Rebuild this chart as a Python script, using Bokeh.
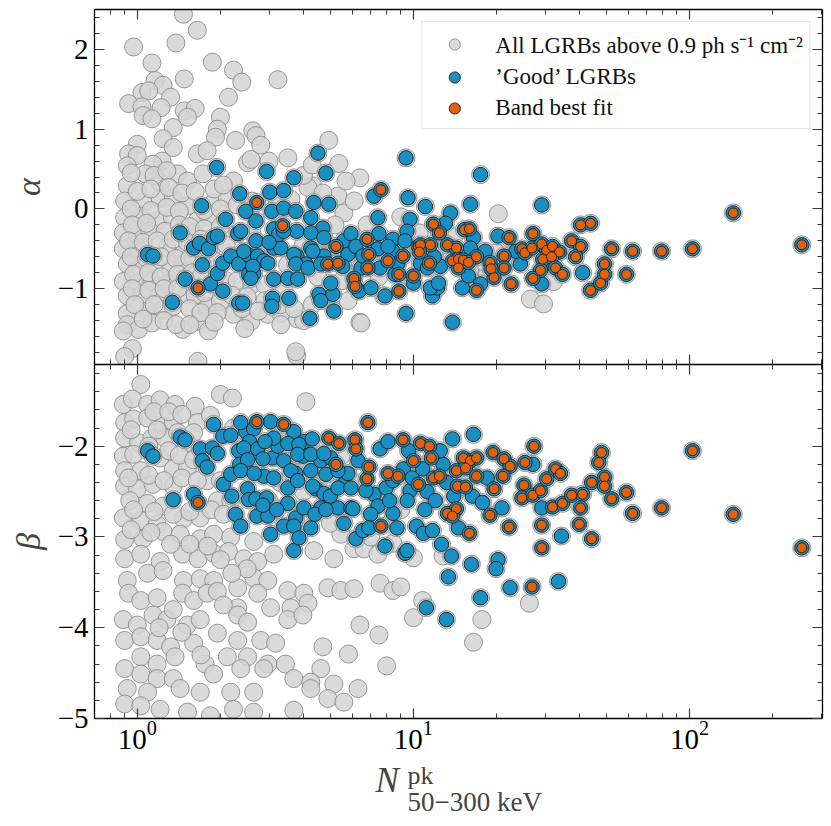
from bokeh.plotting import figure
from bokeh.models import Range1d, FixedTicker, LinearAxis, LogAxis, Label, Legend, LegendItem
from bokeh.layouts import column
from bokeh.embed import file_html
from bokeh.resources import INLINE

FONT = "Liberation Serif"
GREY_FILL = "#d3d3d3"
GREY_LINE = "#8c8c8c"
BLUE = "#1a8fc2"
ORANGE = "#e0600c"
EDGE = "#1c1c1c"

# ---------------- tick values ----------------
x_major = [1, 10, 100]
x_minor = [0.7, 0.8, 0.9, 2, 3, 4, 5, 6, 7, 8, 9, 20, 30, 40, 50, 60, 70, 80, 90, 200, 300]
alpha_major = [-1, 0, 1, 2]
alpha_minor = [-1.8, -1.6, -1.4, -1.2, -0.8, -0.6, -0.4, -0.2, 0.2, 0.4, 0.6, 0.8,
               1.2, 1.4, 1.6, 1.8, 2.2, 2.4]
beta_major = [-5, -4, -3, -2]
beta_minor = [-4.8, -4.6, -4.4, -4.2, -3.8, -3.6, -3.4, -3.2, -2.8, -2.6, -2.4, -2.2,
              -1.8, -1.6, -1.4, -1.2]
tick_text = {-5: "\u22125", -4: "\u22124", -3: "\u22123", -2: "\u22122", -1: "\u22121",
             0: "0", 1: "1", 2: "2"}

# ---------------- alpha panel: all LGRBs (not 'good') ----------------
top_all_n = [
    1.47, 1.65, 0.97, 1.38, 1.13, 1.87, 2.23, 2.39, 1.48, 3.23,
    1.16, 1.24, 1.04, 1.10, 1.32, 2.14, 0.93, 1.04, 1.22, 1.48,
    1.62, 1.05, 1.13, 1.52, 2.00, 1.35, 1.95, 2.62, 2.69, 1.24,
    1.92, 2.27, 1.00, 1.35, 4.94, 0.93, 1.00, 1.65, 1.79, 1.23,
    1.14, 0.92, 2.51, 3.51, 5.37, 6.40, 1.40, 1.52, 1.07, 1.73,
    2.23, 0.92, 1.21, 4.32, 5.33, 0.90, 1.05, 1.21, 1.35, 1.52,
    1.89, 2.12, 4.15, 0.90, 1.03, 1.18, 1.34, 1.65, 1.81, 0.89,
    1.00, 1.11, 1.26, 1.60, 0.89, 1.01, 1.28, 1.46, 0.92, 1.03,
    1.16, 1.32, 1.46, 0.89, 1.00, 1.13, 1.28, 0.92, 1.04, 1.18,
    1.52, 0.92, 1.09, 1.24, 1.79, 2.00, 0.92, 1.01, 1.13, 1.46,
    1.65, 1.81, 2.23, 2.58, 0.89, 2.97, 3.31, 3.81, 6.40, 0.96,
    0.90, 1.66, 3.78, 2.58, 20.3, 26.5, 6.46, 2.45, 3.31, 4.00,
    7.79, 3.75, 32.2, 18.0, 17.0, 29.6, 0.95, 1.15, 1.28, 1.00,
    1.12, 1.30, 1.45, 1.62, 1.90, 2.05, 0.95, 1.12, 1.28, 1.42,
    1.75, 2.00, 2.30, 2.60, 3.60, 4.70, 5.60, 6.10, 0.96, 1.08,
    1.42, 1.55, 1.75, 2.00, 0.93, 1.05, 1.18, 1.35, 1.52, 1.70,
    1.90, 2.10, 0.95, 1.08, 1.22, 1.38, 1.55, 1.75, 1.90, 0.97,
    1.10, 1.22, 1.40, 1.58, 1.70, 2.10, 2.30, 2.60, 2.90, 3.40,
    0.96, 1.10, 1.25, 1.40, 1.62, 1.75, 2.20, 2.50, 2.90, 3.30,
    3.70, 4.30, 5.80, 0.98, 1.15, 1.35, 1.55, 1.70, 1.95, 2.40,
    2.75, 1.05, 1.25, 1.38, 1.55, 1.90, 2.60, 3.00, 3.50, 4.00,
    4.50, 5.20, 5.50, 6.00, 6.80, 7.50, 8.50, 9.00, 10.5, 12.0,
    14.0, 16.0, 20.0, 24.0, 3.20, 4.00, 5.70, 3.00, 2.80, 4.30,
]
top_all_alpha = [
    2.44, 2.24, 2.03, 2.08, 1.83, 1.84, 1.74, 1.59, 1.63, 1.62,
    1.61, 1.55, 1.46, 1.48, 1.40, 1.40, 1.32, 1.28, 1.27, 1.23,
    1.26, 1.17, 1.13, 1.15, 1.15, 1.02, 1.00, 0.98, 0.92, 0.88,
    0.90, 0.86, 0.81, 0.77, 0.86, 0.69, 0.67, 0.69, 0.73, 0.60,
    0.56, 0.54, 0.58, 0.64, 0.57, 0.39, 0.44, 0.35, 0.44, 0.44,
    0.35, 0.29, 0.33, 0.29, 0.16, 0.10, 0.08, 0.13, 0.14, 0.04,
    0.08, 0.13, 0.27, -0.11, -0.09, -0.15, -0.11, -0.15, -0.09, -0.30,
    -0.32, -0.28, -0.28, -0.30, -0.50, -0.50, -0.49, -0.57, -0.69, -0.74,
    -0.69, -0.76, -0.69, -0.91, -0.93, -0.91, -0.94, -1.09, -1.07, -1.12,
    -1.07, -1.31, -1.28, -1.26, -1.22, -1.16, -1.45, -1.51, -1.43, -1.51,
    -1.41, -1.53, -1.32, -1.41, -1.53, -1.32, -1.31, -1.38, -1.42, -1.75,
    -1.85, -1.91, -1.84, 0.62, -0.06, -1.13, -1.43, -1.50, -1.45, -1.40,
    -1.09, -1.79, -0.91, -0.69, -0.87, -1.19, 0.45, 0.42, 0.48, 0.22,
    0.25, 0.27, 0.20, 0.22, 0.25, 0.30, 0.00, -0.02, 0.02, -0.03,
    -0.02, 0.00, 0.05, 0.10, 0.12, 0.20, -0.05, 0.10, -0.20, -0.18,
    -0.20, -0.22, -0.25, -0.22, -0.40, -0.42, -0.40, -0.38, -0.42, -0.38,
    -0.45, -0.45, -0.60, -0.62, -0.60, -0.62, -0.62, -0.60, -0.65, -0.82,
    -0.80, -0.85, -0.82, -0.80, -0.85, -0.90, -0.90, -0.95, -0.95, -1.00,
    -1.00, -1.02, -1.00, -1.00, -1.08, -1.05, -1.08, -1.10, -1.15, -1.20,
    -1.25, -1.20, -1.15, -1.20, -1.20, -1.22, -1.25, -1.30, -1.30, -1.25,
    -1.28, -1.38, -1.40, -1.45, -1.45, -1.42, -0.30, -0.55, -0.70, -0.45,
    -0.85, -0.20, -0.90, -0.60, -0.20, -0.85, -0.65, -0.10, -0.30, -0.55,
    -0.35, -0.78, -0.55, -0.65, 0.05, 0.42, 0.35, 0.60, 0.80, 0.55,
]

# ---------------- alpha panel: 'good' LGRBs (not Band best fit) ----------------
top_good_n = [
    1.94, 1.71, 1.43, 1.09, 1.14, 1.34, 1.49, 1.60, 1.68, 1.72,
    1.81, 1.89, 1.95, 1.84, 1.95, 2.04, 2.09, 2.04, 2.18, 2.31,
    2.33, 2.33, 2.35, 2.47, 2.51, 2.53, 2.69, 2.73, 2.64, 2.87,
    2.94, 3.02, 3.07, 3.12, 3.12, 3.12, 3.09, 3.07, 3.39, 3.39,
    3.31, 3.51, 3.54, 3.69, 3.75, 3.78, 3.78, 3.81, 4.08, 4.25,
    4.25, 4.22, 4.36, 4.51, 4.55, 4.70, 4.82, 4.74, 4.94, 5.11,
    5.15, 5.60, 5.94, 5.79, 6.46, 6.35, 7.02, 7.20, 7.44, 7.50,
    7.89, 8.43, 8.57, 9.40, 9.40, 9.56, 9.72, 17.5, 11.05, 16.09,
    13.62, 29.15, 13.06, 16.50, 20.25, 15.04, 11.72, 12.22, 13.85, 29.15,
    41.0, 2.37, 2.69, 3.25, 3.39, 4.25, 4.74, 9.48, 2.43, 3.00,
    3.69, 4.32, 7.44, 8.43, 2.62, 2.97, 3.75, 4.15, 4.62, 5.55,
    7.57, 10.60, 11.24, 12.53, 2.58, 5.02, 10.0, 11.52, 4.62, 2.41,
    12.32, 6.19, 6.56, 8.09, 8.79, 9.32, 11.9, 16.09, 18.2, 15.82,
    17.5, 24.4, 30.6, 23.5,
]
top_good_alpha = [
    0.52, 0.04, -0.30, -0.57, -0.59, -1.17, -0.88, -0.49, -0.43, -0.70,
    -0.50, -0.36, -0.34, -0.94, -0.81, -1.03, -0.13, -0.68, -0.59, -0.31,
    -0.69, -1.18, 0.19, -0.03, -0.57, -0.82, -0.15, -0.59, -0.81, -0.65,
    0.47, 0.21, -0.03, -0.25, -0.49, -0.88, -1.12, -1.22, 0.23, 0.01,
    -0.49, -0.87, -1.12, 0.39, -0.03, -0.28, -0.59, -0.88, -0.69, -0.11,
    -0.49, -1.37, 0.08, 0.70, -1.07, -0.24, 0.45, -0.59, 0.06, -1.07,
    -1.28, -0.40, -0.31, -0.57, -0.74, -1.03, -0.99, 0.16, -0.11, -0.31,
    -1.09, -0.38, -0.82, 0.64, -1.31, 0.14, -0.13, 0.43, 0.03, 0.06,
    -0.05, 0.05, -0.18, -0.36, -0.34, -0.99, -1.09, -0.99, -1.42, -0.94,
    -0.80, -0.28, -0.40, -0.32, -0.28, -0.30, -0.36, -0.28, -0.53, -0.42,
    -0.57, -0.53, -0.50, -0.53, -0.72, -0.68, -0.69, -0.74, -0.69, -0.72,
    -0.74, -0.68, -0.74, -0.72, -0.87, -0.93, -0.93, -0.99, -1.15, -1.18,
    -0.93, -0.47, -0.59, -0.47, -0.68, -0.40, -0.60, -0.49, -0.53, -0.84,
    -0.94, -0.69, -0.68, -0.53,
]

# ---------------- alpha panel: Band best fit ----------------
top_band_n = [
    1.66, 2.71, 3.36, 5.24, 4.90, 5.33, 6.09, 6.14, 6.79, 6.90,
    6.84, 7.63, 8.09, 8.86, 8.86, 9.17, 10.0, 10.42, 11.81, 12.42,
    15.30, 15.95, 22.21, 10.60, 11.52, 13.28, 14.31, 10.51, 11.43, 13.85,
    14.55, 15.17, 14.55, 16.92, 15.82, 18.94, 21.29, 21.29, 19.58, 19.10,
    22.59, 16.92, 27.09, 24.71, 25.34, 26.86, 29.15, 30.37, 31.90, 33.79,
    29.40, 31.63, 28.85, 27.09, 32.70, 34.65, 37.40, 40.3, 38.67, 40.3,
    43.8, 43.8, 47.6, 49.2, 49.2, 52.2, 62.2, 59.1, 79.2, 102.5,
    144.0, 255.0,
]
top_band_alpha = [
    -0.99, 0.08, -0.21, -0.47, -0.69, -0.68, -0.87, -0.97, -0.38, -0.57,
    -0.74, 0.24, -0.65, -0.82, -1.03, -0.59, -0.84, -0.47, -0.19, -0.30,
    -0.26, -0.25, -0.36, -0.45, -0.45, -0.45, -0.49, -0.54, -0.68, -0.65,
    -0.63, -0.64, -0.74, -0.60, -0.67, -0.67, -0.59, -0.74, -0.86, -0.75,
    -0.94, -1.02, -0.31, -0.50, -0.55, -0.49, -0.44, -0.52, -0.47, -0.54,
    -0.63, -0.60, -0.77, -0.87, -0.74, -0.82, -0.40, -0.47, -0.60, -0.20,
    -0.18, -1.02, -0.93, -0.82, -0.69, -0.50, -0.53, -0.82, -0.53, -0.50,
    -0.05, -0.45,
]

# ---------------- beta panel: all LGRBs (not 'good') ----------------
bot_all_n = [
    1.03, 0.89, 0.96, 1.09, 1.21, 1.37, 2.00, 2.21, 4.08, 1.62,
    0.90, 0.97, 1.09, 1.24, 1.35, 1.65, 1.84, 2.23, 0.90, 1.01,
    1.13, 1.26, 1.52, 0.89, 0.97, 1.21, 0.90, 1.03, 1.35, 1.52,
    0.90, 1.00, 1.14, 1.35, 1.79, 2.00, 0.94, 1.09, 1.24, 1.95,
    2.18, 0.89, 1.03, 1.18, 1.47, 1.69, 0.90, 1.05, 1.24, 1.43,
    1.69, 1.89, 2.18, 2.64, 0.90, 1.03, 1.21, 1.46, 1.66, 1.89,
    2.14, 2.43, 2.73, 3.12, 4.36, 5.15, 5.46, 6.09, 6.62, 7.44,
    8.43, 0.92, 1.09, 1.24, 1.47, 1.69, 1.89, 2.31, 2.64, 2.97,
    3.51, 4.01, 4.90, 5.46, 6.09, 7.57, 8.43, 0.93, 1.03, 1.18,
    1.46, 1.60, 1.79, 2.31, 2.73, 3.04, 3.60, 4.15, 0.89, 1.00,
    1.14, 1.28, 1.52, 1.69, 2.31, 2.51, 3.51, 3.98, 6.40, 7.50,
    0.90, 1.03, 1.18, 1.32, 1.60, 1.95, 2.31, 2.80, 3.17, 4.70,
    5.82, 1.03, 1.18, 1.37, 1.76, 2.12, 2.51, 2.97, 3.44, 4.62,
    8.00, 0.90, 1.03, 1.18, 1.35, 1.89, 2.37, 2.87, 3.69, 4.25,
    5.15, 6.30, 0.92, 1.09, 1.43, 1.69, 2.18, 2.64, 4.25, 4.90,
    0.90, 1.03, 1.21, 1.52, 1.84, 2.23, 2.64, 3.69, 5.60, 10.0,
    10.8, 17.7, 16.5, 26.3, 12.8, 10.0, 9.00, 1.15, 1.30, 1.45,
    0.95, 1.18, 1.40, 1.60, 1.10, 1.30, 1.42, 1.60, 0.93, 1.10,
    1.25, 1.45, 1.65, 0.97, 1.15, 1.35, 1.55, 1.85, 2.05, 0.95,
    1.12, 1.32, 1.55, 1.80, 2.00, 2.50, 2.20, 1.95, 2.05, 1.35,
    1.20, 1.45, 1.70, 2.80, 3.30, 4.50, 5.50, 3.00, 4.00, 5.00,
    6.50, 7.00, 9.00,
]
bot_all_beta = [
    -1.32, -1.54, -1.48, -1.54, -1.49, -1.54, -1.43, -1.47, -1.51, -1.56,
    -1.74, -1.70, -1.69, -1.78, -1.73, -1.74, -1.66, -1.80, -1.91, -1.96,
    -1.91, -1.91, -1.96, -2.11, -2.09, -2.13, -2.27, -2.27, -2.25, -2.24,
    -2.44, -2.47, -2.42, -2.44, -2.38, -2.38, -2.60, -2.63, -2.66, -2.60,
    -2.60, -2.79, -2.82, -2.86, -2.80, -2.79, -3.03, -3.02, -2.94, -2.97,
    -3.02, -2.97, -3.00, -3.05, -3.24, -3.19, -3.27, -3.19, -3.24, -3.18,
    -3.16, -3.24, -3.27, -3.19, -3.15, -3.24, -2.97, -3.13, -3.13, -3.19,
    -3.07, -3.48, -3.40, -3.37, -3.48, -3.46, -3.48, -3.56, -3.45, -3.48,
    -3.59, -3.62, -3.56, -3.59, -3.57, -3.51, -3.59, -3.62, -3.70, -3.67,
    -3.62, -3.70, -3.62, -3.78, -3.62, -3.78, -3.78, -3.73, -3.91, -3.97,
    -3.86, -3.91, -3.97, -3.91, -3.86, -3.94, -3.91, -3.86, -3.97, -4.08,
    -4.14, -4.10, -4.14, -4.21, -4.17, -4.06, -4.14, -4.14, -4.17, -4.21,
    -4.29, -4.32, -4.40, -4.32, -4.40, -4.32, -4.32, -4.40, -4.40, -4.45,
    -4.42, -4.45, -4.51, -4.56, -4.56, -4.51, -4.45, -4.45, -4.56, -4.60,
    -4.62, -4.67, -4.67, -4.71, -4.67, -4.71, -4.71, -4.71, -4.67, -4.78,
    -4.84, -4.86, -4.90, -4.93, -4.97, -4.90, -4.93, -4.91, -4.82, -3.89,
    -3.70, -3.91, -4.16, -3.73, -3.21, -3.23, -3.55, -1.62, -1.62, -1.65,
    -1.82, -1.82, -1.85, -1.85, -2.00, -2.05, -2.10, -2.15, -2.35, -2.32,
    -2.38, -2.35, -2.38, -2.70, -2.72, -2.75, -2.72, -2.70, -2.75, -2.92,
    -2.95, -3.08, -3.08, -3.10, -3.25, -3.35, -3.40, -3.60, -3.75, -3.80,
    -4.00, -4.05, -4.30, -2.00, -2.40, -2.30, -2.10, -2.60, -2.50, -2.85,
    -2.40, -3.00, -2.70,
]

# ---------------- beta panel: 'good' LGRBs (not Band best fit) ----------------
bot_good_n = [
    1.09, 1.14, 1.35, 1.60, 1.43, 1.49, 1.89, 1.69, 1.72, 1.79,
    1.87, 1.95, 2.04, 2.18, 2.05, 2.18, 2.27, 2.37, 2.33, 2.35,
    2.47, 2.64, 2.51, 2.53, 2.69, 2.71, 2.97, 3.04, 2.94, 3.04,
    2.87, 3.12, 3.09, 3.23, 3.12, 3.39, 3.51, 3.51, 3.39, 3.69,
    3.69, 3.51, 3.75, 3.75, 3.69, 4.01, 3.98, 4.01, 4.25, 4.25,
    4.43, 4.62, 4.62, 4.74, 5.02, 5.33, 5.60, 5.79, 5.94, 6.30,
    6.19, 6.56, 7.20, 7.44, 7.57, 7.89, 8.09, 8.43, 8.72, 9.32,
    9.48, 9.72, 10.25, 13.85, 16.50, 16.36, 14.55, 10.87, 11.72, 12.63,
    13.73, 16.22, 13.39, 11.14, 13.17, 17.50, 20.25, 19.91, 22.40, 33.51,
    20.93, 27.09, 29.15, 34.36, 2.37, 2.55, 2.43, 2.73, 2.90, 3.85,
    4.30, 2.51, 2.85, 3.81, 4.25, 4.74, 2.37, 2.65, 3.60, 4.82,
    5.33, 2.20, 3.81, 4.32, 5.00, 5.33, 5.94, 6.73, 7.96, 8.43,
    2.85, 3.20, 4.40, 4.82, 5.60, 6.04, 7.00, 8.20, 3.85, 6.90,
    9.60, 9.20, 9.90, 10.8, 11.2, 12.0, 12.8, 13.2, 14.0, 11.0,
    9.50, 12.5, 17.8, 18.5,
]
bot_good_beta = [
    -2.05, -2.11, -2.59, -2.53, -1.90, -1.93, -1.76, -2.03, -2.16, -2.23,
    -2.02, -2.08, -1.89, -1.88, -2.42, -2.31, -2.75, -2.88, -2.05, -2.20,
    -1.84, -1.81, -2.47, -2.59, -2.58, -2.77, -2.77, -1.73, -2.57, -2.97,
    -2.33, -2.35, -2.13, -2.00, -1.91, -2.16, -2.46, -2.63, -2.88, -3.15,
    -1.84, -1.97, -2.30, -2.79, -2.88, -1.95, -2.11, -2.68, -2.90, -2.27,
    -2.47, -2.16, -2.68, -2.52, -2.13, -2.68, -2.42, -2.30, -2.68, -2.16,
    -3.02, -2.93, -2.53, -2.66, -2.03, -3.10, -1.95, -2.74, -2.90, -3.18,
    -3.15, -2.49, -2.88, -1.92, -1.87, -2.55, -2.90, -2.96, -2.93, -3.08,
    -3.21, -3.30, -3.44, -3.78, -3.91, -3.67, -3.25, -3.35, -3.56, -3.49,
    -2.68, -2.20, -2.68, -2.99, -1.74, -1.95, -2.02, -2.03, -1.95, -1.98,
    -1.92, -2.15, -2.14, -2.09, -2.09, -2.08, -2.27, -2.30, -2.27, -2.31,
    -2.27, -2.55, -2.38, -2.44, -2.55, -2.46, -2.46, -2.49, -2.46, -2.38,
    -2.65, -2.70, -2.75, -2.70, -2.85, -2.69, -2.75, -2.60, -3.01, -2.90,
    -2.05, -2.25, -2.35, -2.25, -2.50, -2.60, -2.20, -2.40, -2.55, -2.70,
    -2.60, -2.05, -2.62, -2.35,
]

# ---------------- beta panel: Band best fit ----------------
bot_band_n = [
    1.66, 2.71, 3.39, 4.94, 5.37, 5.24, 6.14, 6.19, 6.84, 6.79,
    6.90, 7.63, 8.09, 8.79, 9.17, 10.0, 10.42, 10.60, 11.43, 11.62,
    11.81, 12.42, 15.17, 16.09, 16.92, 14.31, 15.43, 16.92, 14.43, 15.43,
    13.28, 14.31, 13.85, 15.95, 26.9, 18.94, 22.21, 19.42, 21.29, 22.40,
    21.11, 19.58, 25.34, 27.31, 25.13, 24.71, 27.09, 28.85, 30.37, 32.70,
    34.08, 29.15, 29.15, 31.90, 34.65, 37.40, 41.0, 40.3, 39.9, 44.2,
    44.2, 48.0, 46.9, 49.2, 49.2, 52.2, 59.1, 62.2, 79.2, 102.5,
    144.0, 255.0,
]
bot_band_beta = [
    -2.62, -1.73, -1.76, -1.91, -1.97, -2.20, -1.93, -2.03, -1.74, -2.36,
    -2.23, -2.88, -2.30, -2.33, -1.93, -2.16, -2.42, -1.97, -2.00, -2.13,
    -2.35, -2.33, -2.13, -2.16, -2.13, -2.27, -2.24, -2.33, -2.44, -2.45,
    -2.74, -2.69, -2.77, -2.96, -3.55, -2.76, -2.89, -2.07, -2.14, -2.22,
    -2.33, -2.47, -2.18, -2.00, -2.43, -2.57, -2.54, -2.49, -2.36, -2.25,
    -2.30, -2.87, -3.12, -2.67, -2.63, -2.54, -2.53, -2.68, -2.86, -3.02,
    -2.40, -2.07, -2.18, -2.34, -2.44, -2.58, -2.51, -2.74, -2.68, -2.05,
    -2.75, -3.12,
]

legend_labels = ["All LGRBs above 0.9 ph s\u207b\u00b9 cm\u207b\u00b2",
                 "\u2019Good\u2019 LGRBs",
                 "Band best fit"]

WIDTH = 825
BORDER_L = 94
BORDER_R = 3
xr = Range1d(0.7, 303)


def style_axis(ax, show_labels):
    ax.major_tick_in = 10
    ax.major_tick_out = 0
    ax.minor_tick_in = 5
    ax.minor_tick_out = 0
    ax.axis_line_color = "black"
    ax.axis_line_width = 1.3
    ax.major_tick_line_color = "#3a3a3a"
    ax.minor_tick_line_color = "#3a3a3a"
    ax.major_tick_line_width = 1.2
    ax.minor_tick_line_width = 1.0
    ax.major_label_text_font = FONT
    if show_labels:
        ax.major_label_text_color = "black"
        ax.major_label_text_font_size = "29px"
        ax.major_label_standoff = 6
    else:
        ax.major_label_text_color = None
        ax.major_label_text_font_size = "1px"
        ax.major_label_standoff = 0


def make_panel(height, yr, y_major, y_minor, ylabel, x_labels, b_top, b_bottom):
    p = figure(width=WIDTH, height=height, x_axis_type="log", x_range=xr, y_range=yr,
               x_axis_location=None, y_axis_location=None, title=None,
               output_backend="svg", toolbar_location=None,
               min_border_left=BORDER_L, min_border_right=BORDER_R,
               min_border_top=b_top, min_border_bottom=b_bottom)
    for g in p.grid:
        g.visible = False
    p.outline_line_color = None
    p.background_fill_color = "white"
    p.border_fill_color = "white"

    yt = FixedTicker(ticks=y_major, minor_ticks=y_minor)
    xt = FixedTicker(ticks=x_major, minor_ticks=x_minor)

    left = LinearAxis(ticker=yt, axis_label=ylabel,
                      major_label_overrides={k: v for k, v in tick_text.items() if k in y_major})
    style_axis(left, True)
    left.axis_label_text_font = FONT
    left.axis_label_text_font_style = "italic"
    left.axis_label_text_font_size = "34px"
    left.axis_label_standoff = 8
    right = LinearAxis(ticker=yt)
    style_axis(right, False)
    below = LogAxis(ticker=xt)
    style_axis(below, x_labels)
    if x_labels:
        below.major_label_standoff = 2
    above = LogAxis(ticker=xt)
    style_axis(above, False)
    p.add_layout(left, "left")
    p.add_layout(right, "right")
    p.add_layout(below, "below")
    p.add_layout(above, "above")
    return p


def draw(p, all_n, all_v, good_n, good_v, band_n, band_v):
    r_all = p.scatter(all_n + good_n + band_n, all_v + good_v + band_v, size=18,
                      fill_color=GREY_FILL, fill_alpha=0.85,
                      line_color=GREY_LINE, line_width=1.0, line_alpha=0.9)
    r_good = p.scatter(good_n + band_n, good_v + band_v, size=14.5,
                       fill_color=BLUE, line_color=EDGE, line_width=0.9)
    r_band = p.scatter(band_n, band_v, size=10,
                       fill_color=ORANGE, line_color=EDGE, line_width=0.9)
    return r_all, r_good, r_band


top = make_panel(364, Range1d(-1.95, 2.5), alpha_major, alpha_minor, "\u03b1", False, 9, 0)
rt = draw(top, top_all_n, top_all_alpha, top_good_n, top_good_alpha, top_band_n, top_band_alpha)

legend = Legend(items=[LegendItem(label=lab, renderers=[r]) for lab, r in zip(legend_labels, rt)],
                location="top_right")
legend.margin = 12
legend.padding = 6
legend.spacing = 3
legend.glyph_width = 52
legend.glyph_height = 28
legend.label_standoff = 15
legend.label_text_font = FONT
legend.label_text_font_size = "23px"
legend.label_text_color = "#111111"
legend.border_line_color = "#cccccc"
legend.border_line_width = 1.2
legend.background_fill_color = "white"
legend.background_fill_alpha = 0.85
top.add_layout(legend)

bottom = make_panel(394, Range1d(-5.0, -1.1), beta_major, beta_minor, "\u03b2", True, 0, 40)
draw(bottom, bot_all_n, bot_all_beta, bot_good_n, bot_good_beta, bot_band_n, bot_band_beta)

# strip underneath holding the x-axis title  N^pk_{50-300 keV}
STRIP_H = 64
strip = figure(width=WIDTH, height=STRIP_H, x_range=Range1d(0, WIDTH - BORDER_L - BORDER_R),
               y_range=Range1d(0, STRIP_H), x_axis_location=None, y_axis_location=None,
               title=None, output_backend="svg", toolbar_location=None,
               min_border_left=BORDER_L, min_border_right=BORDER_R,
               min_border_top=0, min_border_bottom=0)
for g in strip.grid:
    g.visible = False
strip.outline_line_color = None
strip.background_fill_color = "white"
strip.border_fill_color = "white"

lab_n = Label(x=281, y=42, text="N",
              text_font=FONT, text_font_style="italic", text_font_size="35px",
              text_baseline="alphabetic", text_align="left")
lab_pk = Label(x=313, y=47, text="pk",
               text_font=FONT, text_font_size="26px",
               text_baseline="alphabetic", text_align="left")
lab_sub = Label(x=313, y=21, text="50\u2212300 keV",
                text_font=FONT, text_font_size="27px",
                text_baseline="alphabetic", text_align="left")
for lab in (lab_n, lab_pk, lab_sub):
    strip.add_layout(lab)

layout = column(top, bottom, strip, spacing=0)
open("out.html", "w").write(file_html(layout, INLINE))
